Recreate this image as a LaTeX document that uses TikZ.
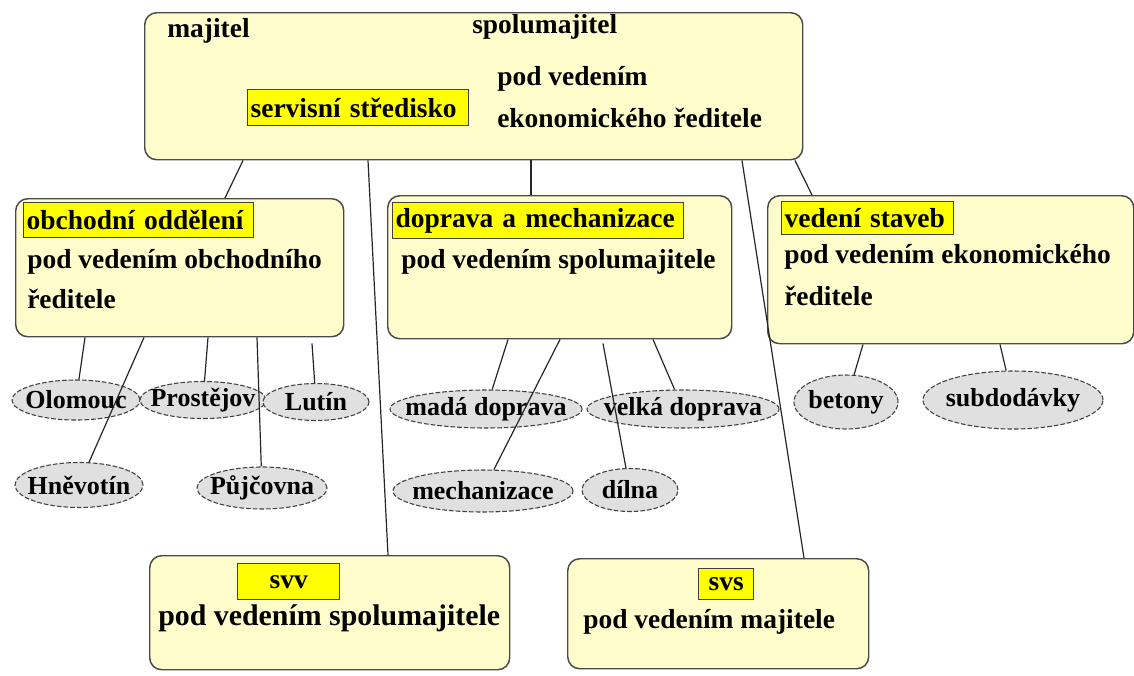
\documentclass[tikz,border=0pt]{standalone}
\usepackage{fontspec}
\setmainfont{Liberation Serif}
\usetikzlibrary{calc,shapes.geometric}
\definecolor{boxfill}{HTML}{FFFDCC}
\definecolor{boxline}{HTML}{4A4A4A}
\definecolor{labyellow}{HTML}{FFFF00}
\definecolor{elfill}{HTML}{E0E0E0}
\newcommand{\ovaltext}[1]{\makebox[0pt]{#1}}
\begin{document}
\begin{tikzpicture}[x=0.75pt,y=-0.75pt,
  mainbox/.style={draw=boxline, line width=1.1pt, fill=boxfill, rounded corners=9pt, anchor=north west, inner sep=0pt},
  lab/.style={draw=black!75, line width=1pt, fill=labyellow, anchor=north west, inner xsep=2.25pt, inner ysep=0pt, font=\fontsize{20.6}{24}\selectfont\bfseries},
  txt/.style={anchor=base west, inner sep=0pt, font=\fontsize{20.6}{24}\selectfont\bfseries},
  bigtxt/.style={anchor=base west, inner sep=0pt, font=\fontsize{22.4}{26}\selectfont\bfseries},
  oval/.style={ellipse, draw=black!75, dash pattern=on 3.5pt off 1.5pt, fill=elfill, inner sep=0pt, font=\fontsize{19.5}{22}\selectfont\bfseries, line width=0.8pt},
  conn/.style={draw=black!85, line width=0.9pt}]
\useasboundingbox (0,0) rectangle (1134,675);

% main boxes
\node[mainbox, minimum width=658*.75pt, minimum height=147*.75pt] (top) at (144,12) {};
\node[mainbox, minimum width=328*.75pt, minimum height=138*.75pt] (obch) at (15,198) {};
\node[mainbox, minimum width=344*.75pt, minimum height=143*.75pt] (mid) at (387,195) {};
\node[mainbox, minimum width=366*.75pt, minimum height=148*.75pt] (right) at (767,195) {};
\node[mainbox, minimum width=360*.75pt, minimum height=114*.75pt] (svv) at (149,555) {};
\node[mainbox, minimum width=301*.75pt, minimum height=110*.75pt] (svs) at (567,558) {};

% yellow labels
\node[lab, text width=215*.75pt, align=left, minimum height=36*.75pt] (lserv) at (247,89) {servisní středisko};
\node[lab, text width=224*.75pt, align=left, minimum height=35*.75pt] (lobch) at (23,202) {obchodní oddělení};
\node[lab, text width=285*.75pt, align=left, minimum height=36*.75pt] (lmid) at (392,202) {doprava a mechanizace};
\node[lab, text width=166*.75pt, align=left, minimum height=33*.75pt] (lright) at (781,201) {vedení staveb};
\node[lab, text width=96*.75pt, align=center, minimum height=36*.75pt] (lsvv) at (237,563) {svv};
\node[lab, text width=49*.75pt, align=center, minimum height=31*.75pt] (lsvs) at (698,568) {svs};

% texts
\node[txt] (tmaj) at (167,37) {majitel};
\node[txt] (tspol) at (472,33) {spolumajitel};
\node[txt] (tpv1) at (497,85) {pod vedením};
\node[txt] (tek1) at (497,127) {ekonomického ředitele};
\node[txt] (tobch1) at (27,268) {pod vedením obchodního};
\node[txt] (tobch2) at (27,308) {ředitele};
\node[txt] (tmid) at (401,268) {pod vedením spolumajitele};
\node[txt] (tr1) at (784,263) {pod vedením ekonomického};
\node[txt] (tr2) at (784,305) {ředitele};
\node[bigtxt] (tsvv) at (158,625) {pod vedením spolumajitele};
\node[txt] (tsvs) at (583,628) {pod vedením majitele};

% ellipses
\node[oval, minimum width=128*.75pt, minimum height=40*.75pt] (olo) at (76,400) {\ovaltext{Olomouc}};
\node[oval, minimum width=126*.75pt, minimum height=37*.75pt] (pro) at (203,400) {\ovaltext{Prostějov}};
\node[oval, minimum width=106*.75pt, minimum height=37*.75pt] (lut) at (316,402) {\ovaltext{Lutín}};
\node[oval, minimum width=128*.75pt, minimum height=45*.75pt] (hne) at (79,485) {\ovaltext{Hněvotín}};
\node[oval, minimum width=130*.75pt, minimum height=42*.75pt] (puj) at (262,488) {\ovaltext{Půjčovna}};
\node[oval, minimum width=192*.75pt, minimum height=38*.75pt] (mad) at (486,409) {\ovaltext{madá doprava}};
\node[oval, minimum width=192*.75pt, minimum height=38*.75pt] (vel) at (683,409) {\ovaltext{velká doprava}};
\node[oval, minimum width=180*.75pt, minimum height=42*.75pt] (mech) at (483,491) {\ovaltext{mechanizace}};
\node[oval, minimum width=96*.75pt, minimum height=43*.75pt] (diln) at (630,490) {\ovaltext{dílna}};
\node[oval, minimum width=104*.75pt, minimum height=54*.75pt] (bet) at (846,402) {\ovaltext{betony}};
\node[oval, minimum width=180*.75pt, minimum height=58*.75pt] (sub) at (1013,400) {\ovaltext{subdodávky}};

% connectors from top box
\draw[conn] ($(top.south west)+(99,0)$) -- ($(obch.north west)+(210,0)$);
\draw[conn] ($(top.south west)+(224,0)$) -- ($(svv.north west)+(239,0)$);
\draw[conn] ($(top.south west)+(387,0)$) -- ($(mid.north west)+(144,0)$);
\draw[conn] ($(top.south west)+(598,0)$) -- ($(svs.north west)+(237,0)$);
\draw[conn] ($(top.south west)+(651,0)$) -- ($(right.north west)+(45,0)$);

% obchodni children
\draw[conn] ($(obch.south west)+(70,0)$) -- (olo);
\draw[conn] ($(obch.south west)+(129,0)$) -- (hne);
\draw[conn] ($(obch.south west)+(193,0)$) -- (pro);
\draw[conn] ($(obch.south west)+(242,0)$) -- (puj);
\draw[conn] ($(obch.south west)+(297,6)$) -- (lut);

% doprava children
\draw[conn] ($(mid.south west)+(121,0)$) -- (mad);
\draw[conn] ($(mid.south west)+(173,0)$) -- (mech);
\draw[conn] ($(mid.south west)+(216,4)$) -- (diln);
\draw[conn] ($(mid.south west)+(266,0)$) -- (vel);

% vedeni staveb children
\draw[conn] ($(right.south west)+(96,0)$) -- (bet);
\draw[conn] ($(right.south west)+(233,0)$) -- (sub);
\end{tikzpicture}
\end{document}
